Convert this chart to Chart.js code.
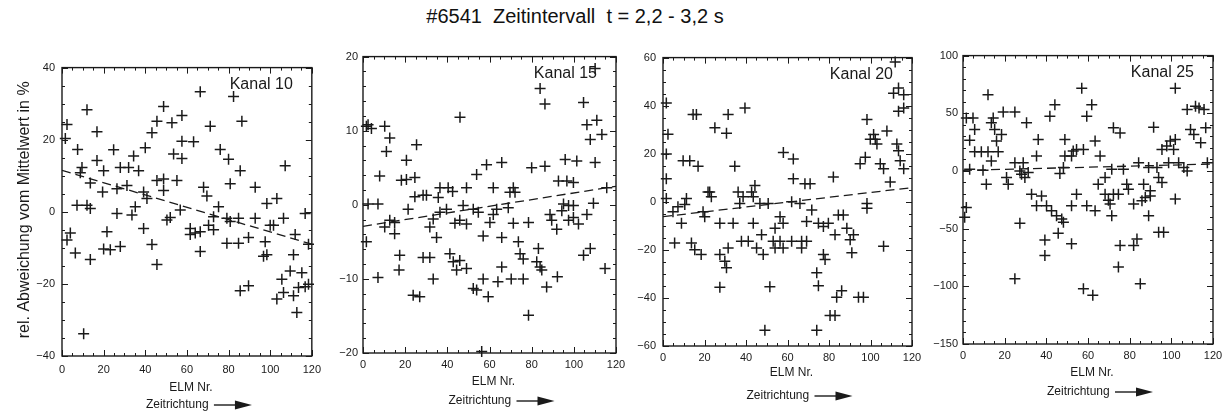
<!DOCTYPE html>
<html>
<head>
<meta charset="utf-8">
<script src="https://cdn.jsdelivr.net/npm/chart.js@4/dist/chart.umd.min.js"></script>
<style>
  html, body { margin: 0; padding: 0; background: #fff; }
  body { width: 1231px; height: 414px; position: relative; overflow: hidden; font-family: "Liberation Sans", Arial, sans-serif; }
  #titel { position: absolute; left: 325px; width: 500px; top: 5px; text-align: center; font-size: 20px; color: #111; white-space: pre; }
  canvas { position: absolute; }
</style>
</head>
<body>
<div id="titel">#6541  Zeitintervall  t = 2,2 - 3,2 s</div>
<canvas id="c10"></canvas>
<canvas id="c15"></canvas>
<canvas id="c20"></canvas>
<canvas id="c25"></canvas>
<script>
// Messpunkte: [ELM Nr., rel. Abweichung in %]
const kanal10 = [
  [2.4,24.2],[1.6,20.3],[12,28.3],[7.5,17.3],[16.8,22.2],[9.6,12.3],[16.8,14.2],[24.8,17.2],[8.8,10.8],[13.6,8.0],
  [20,11.4],[19.5,5.5],[28,12.3],[32,12.3],[34.4,15.5],[36.8,11.4],[31.2,7.3],[26.4,6.4],[40,17.8],[43.2,21.9],
  [45.6,25.1],[48.8,29.2],[52.8,24.7],[57.6,26.7],[57.6,19.6],[63.2,19.4],[53.6,16.0],[57.6,14.8],[66.4,33.3],[71.2,23.7],
  [76,17.3],[80,14.6],[82.4,32],[86.4,25.1],[85.6,11.4],[80.8,7.8],[45.6,8.7],[48.8,9.1],[55.2,8.7],[48.8,5.9],
  [40.8,3.7],[39.2,5.5],[35.2,1.4],[33.6,-0.9],[26.4,-0.5],[12,1.8],[7.2,1.8],[13.6,0.9],[4,-5.9],[2.4,-7.8],
  [6.4,-11.4],[13.6,-13.2],[21.6,-5.5],[20,-10.3],[23.2,-10.5],[28,-9.6],[39.2,-4.6],[43.2,-9.1],[45.6,-14.6],[10.4,-33.8],
  [50.4,-2.3],[52,-1.6],[56.8,0.5],[61.6,-6.3],[64,-5.9],[61.6,-4.6],[66.4,-11],[68,6.8],[69.6,4.4],[70.4,-3.7],
  [66.4,-5.5],[72.8,-5],[75.2,1.4],[72.8,-1.4],[79.2,-1.8],[84.8,-1.8],[79.2,-8.7],[84.8,-8.7],[80.8,-2.7],[89.6,-7.1],
  [92.8,-1.8],[92.8,6.8],[85.6,-21.9],[89.6,-20.5],[96.8,-12.3],[98.4,-11.9],[97.6,-8.3],[98.4,2.3],[103.2,3.7],[100,-3.7],
  [101.6,-3.7],[107.2,12.8],[106.4,-1.8],[112,-6.3],[111.2,-11.9],[109.6,-16.4],[115.2,-16.9],[105.6,-18.7],[103.2,-24.2],[106.4,-22.4],
  [111.2,-23.3],[112.8,-27.9],[113.6,-21.0],[116.8,-20.8],[118.4,-20.1],[116.8,-0.5],[118.4,-9]
];
const kanal15 = [
  [2.4,10.8],[4,10.3],[1.6,10.6],[10.3,10.6],[12.7,9.0],[11.1,7.2],[7.9,3.9],[25.4,8.1],[20.6,6.0],[18.2,3.3],
  [20.6,3.4],[24.6,3.7],[2.4,0.1],[7.1,0.1],[10.3,-3.0],[12.7,-2.1],[15,-2.4],[15,-3.9],[17.4,-6.8],[17.1,-8.8],
  [7.1,-9.8],[1.6,-5.0],[21.4,-0.6],[24.6,1.1],[28.5,1.3],[30.1,1.3],[35.7,1.0],[36.5,2.3],[40.4,2.3],[42.5,1.8],
  [49.1,2.3],[46,11.8],[53.9,4.1],[58.6,5.4],[65.8,5.7],[61.8,2.3],[36.5,-1.0],[39.6,-0.6],[33.3,-1.9],[31.7,-3.0],
  [34.9,-4.4],[31.7,-7.1],[28.5,-7.1],[33.3,-10],[23.8,-12.2],[26.9,-12.4],[41.2,-6.6],[42.8,-7.7],[44.4,-8.8],[45.9,-7.5],
  [49.1,-8.6],[43.6,-2.5],[45.9,-2.1],[49.1,-2.6],[47.5,-0.1],[52.3,-0.6],[54.7,-1.0],[52.3,-11.3],[53.9,-11.5],[57,-10],
  [59.4,-12.4],[56.3,-19.8],[57,-4.2],[60.2,-2.4],[61.8,-1.3],[63.4,-0.6],[64,-10.4],[65.8,-4.4],[65.8,-8.4],[68.9,-0.4],
  [69.7,1.7],[72.1,1.7],[71.3,2.3],[70.3,-10],[71.3,-2.5],[73.7,-5],[74.5,-6.6],[76,-7.3],[76,-10],[78.5,-2.4],
  [78.5,-14.9],[80,5.0],[83.2,-5.9],[82.4,-7.7],[84,-8.4],[84.8,-8.8],[86.3,5.2],[84,15.7],[86.3,13.6],[88.7,-1.3],
  [89.5,-2.1],[87.1,-11.1],[92.2,-9.7],[91.9,-3.3],[92.7,3.2],[95.1,0.1],[94.3,-0.8],[97.5,-2.1],[96.7,3.2],[99.8,3.0],
  [95.9,6.1],[101.4,5.9],[97.5,-0.1],[99.8,-1.7],[102.2,-2.6],[99.8,-0.1],[104.6,13.8],[106.2,10.8],[107.8,8.8],[110.9,11.4],
  [110.1,5.7],[110.1,18.4],[113.3,9.5],[109.3,0.2],[106.2,-1.3],[104.6,-6.8],[107.8,-5.9],[114.8,-8.6],[115.6,2.3]
];
const kanal20 = [
  [1.6,41.1],[2.4,28.1],[1.6,19.9],[1.6,9.6],[1.6,1.4],[4.8,-4.1],[7.2,-2.1],[8.9,-8.9],[10.5,-1.1],[11.3,1.4],
  [5.6,-17.1],[9.7,17.1],[12.9,17.1],[16.9,14.8],[14.5,36.3],[16.1,36.3],[13.7,-17.1],[15.3,-19.9],[18.4,-21.9],[19.3,-4.1],
  [20.1,-6.2],[21.7,4.1],[23.3,2.1],[22.5,4.1],[25,30.8],[30.6,28.5],[31.4,36.3],[39.5,39],[34.6,14.8],[27.4,-8.9],
  [33.8,-8.9],[27.4,-21.9],[29.8,-24.7],[31.4,-19.2],[30.6,-27.4],[27.4,-35.6],[36.2,4.1],[38.6,2.1],[37,-0.7],[42.7,4.1],
  [44.3,6.8],[43.5,2.1],[43.5,-8.9],[37.8,-16.4],[41.1,-16.4],[45.1,-19.2],[47.5,-13.7],[48.3,-21.9],[46.7,-0.7],[50.7,-0.7],
  [51.5,-35.3],[49.1,-53.4],[53.1,-16.4],[56.4,-16.4],[54,-11],[56.4,-6.2],[57.9,-8.9],[54,-19.2],[57.9,-19.2],[58,20.5],
  [62.8,17.8],[62.8,9.6],[62,0],[66,-0.7],[62,-16.4],[66.8,-16.4],[66.8,-19.2],[68.4,7.5],[70.9,7.5],[69.2,-8.2],
  [71.7,-3.4],[69.2,-16.4],[74.9,-8.9],[77.3,-10.3],[79.7,-8.9],[74.1,-29.5],[74.9,-34.9],[77.3,-21.9],[78.1,-24],[74.1,-53.4],
  [82.1,10.3],[80.5,-47.3],[82.9,-47.3],[82.9,-13.7],[84.5,-5.5],[86.9,-5.5],[83.7,-39.7],[86.1,-37],[88.6,-11],[90.2,-15.8],
  [91,-21.2],[91.8,-13.7],[94.2,-39.7],[96.6,-39.7],[95,15.8],[97.5,18.5],[98.3,34.2],[98.3,-0.7],[98.3,-2.7],[99.9,26],
  [102.3,26],[101.5,28],[103.1,24],[104.7,15.8],[106.3,13.7],[106.3,-18.5],[109.5,8.2],[107.9,29.5],[111.1,45.2],[113.5,47.3],
  [111.9,58.2],[113.5,37.7],[112.7,24],[113.5,21.2],[114.3,17.1],[116,13.7],[116,39],[116,44.5]
];
const kanal25 = [
  [1.6,46],[4.8,46],[3.2,26.7],[5.6,36],[3.2,1.4],[1.6,-31.6],[0.8,-40.2],[5.6,16.7],[8.8,16.7],[12,16.7],
  [12,66],[13.6,41.7],[14.5,46],[15.2,36],[16.9,16.7],[16.1,25.9],[18.5,31.6],[19.3,51.1],[24.9,51.1],[11.2,-11.5],
  [13.6,8.6],[9.6,0.6],[20.9,-5.7],[21.7,-11.5],[24.9,7.2],[28.9,7.2],[27.3,0],[28.1,-2.9],[30.5,41.7],[27.3,-45.4],
  [24.9,-93.4],[29.7,-5.7],[31.3,-1.4],[32.9,-20.1],[35.3,12.9],[36.1,27.3],[35.3,-30.2],[37.7,-21.6],[40.1,-30.2],[42.5,-34.5],
  [44.9,-38.8],[47.4,-41.7],[48.2,-44.5],[39.3,-59.8],[39.3,-73.3],[41.7,47.4],[44.1,57.5],[45.7,-54.0],[46.5,-2.3],[48.2,2.9],
  [48.9,27.3],[48.9,12.9],[52.1,12.9],[52.9,17.2],[54.5,18.7],[57.8,18.7],[52.1,-30.2],[54.5,-20.1],[52.1,-63.2],[57,71.8],
  [59.4,47.4],[61.8,57.5],[63.4,25.9],[65.8,12.9],[57.8,-102],[62.3,-107.8],[59.4,-30.2],[63.4,-34.5],[64.9,-11.5],[68.2,-5.7],
  [68.2,-20.1],[72.2,-20.1],[70.6,-28.7],[71.4,-38.8],[69.8,-25.3],[71.4,1.4],[72.2,37.4],[75.4,33],[74.6,-20.1],[74.6,-83.3],
  [75.4,-64.7],[77,1.4],[78.6,-11.5],[79.4,-15.8],[81.9,-28.7],[81.9,-64.7],[83.5,-58.9],[84.3,7.2],[85.1,-97.7],[85.9,-25.9],
  [87.5,-23],[86.7,-11.5],[89.1,2.9],[89.9,-17.2],[89.9,-21.6],[89.1,-38.8],[91.5,37.9],[93.1,2.9],[93.9,-5.7],[95.5,-10],
  [93.9,-53.2],[96.3,-53.2],[95.5,18.7],[97.8,21.6],[98.7,7.2],[99.5,25.9],[101.1,18.7],[101.9,27.3],[101.9,71.8],[101.9,-24.4],
  [103.5,7.2],[106,2.9],[107.6,53.2],[107.6,0],[109.2,36],[110.8,31.6],[111.6,56],[113.3,54.6],[114.1,24.4],[115.7,53.2],
  [116.5,37.4],[117.3,7.2]
];

// Ausgleichsgeraden (Werte bei ELM Nr. 0 und 120)
const trendX = [0, 120];
const trend10 = [11.5, -9];
const trend15 = [-2.9, 2.5];
const trend20 = [-6.2, 5.9];
const trend25 = [0.5, 6];

const xTicks = [0, 120, 20, 5];        // min, max, major, minor
const yTicks10 = [-40, 40, 20, 5];
const yTicks15 = [-20, 20, 10, 2];
const yTicks20 = [-60, 60, 20, 5];
const yTicks25 = [-150, 100, 50, 10];

const FONT = '"Liberation Sans", Arial, sans-serif';
const INK = '#1a1a1a';
const PAD_T = 10, PAD_R = 16, X_H = 60;

// Plotbereiche im Bild (links, oben, rechts, unten)
const panels = [
  { id: 'c10', kanal: 'Kanal 10', punkte: kanal10, trend: trend10, yT: yTicks10, box: [62, 64, 312, 356], yW: 62, tpX: 7, tpY: 7, elm: 32, zeit: 49, yTitel: true },
  { id: 'c15', kanal: 'Kanal 15', punkte: kanal15, trend: trend15, yT: yTicks15, box: [363, 55, 616, 353], yW: 40, tpX: 5, tpY: 5, elm: 29, zeit: 48 },
  { id: 'c20', kanal: 'Kanal 20', punkte: kanal20, trend: trend20, yT: yTicks20, box: [663, 54, 912, 346], yW: 40, tpX: 5, tpY: 7, elm: 27, zeit: 50 },
  { id: 'c25', kanal: 'Kanal 25', punkte: kanal25, trend: trend25, yT: yTicks25, box: [963, 54, 1213, 344], yW: 40, tpX: 5, tpY: 5, elm: 29, zeit: 48 },
];

function istMajor(v, major) {
  return Math.abs(Math.round(v / major) * major - v) < 1e-6;
}

// Rahmen mit Innenstrichen, Kanalbeschriftung, Achsentexte
const rahmenPlugin = {
  id: 'rahmen',
  afterDraw(chart, args, o) {
    const { ctx, chartArea: a, scales: { x, y } } = chart;
    ctx.save();
    ctx.strokeStyle = INK;
    ctx.lineWidth = 1.4;
    ctx.strokeRect(a.left, a.top, a.right - a.left, a.bottom - a.top);
    ctx.lineWidth = 1;
    ctx.beginPath();
    for (let v = xTicks[0]; v <= xTicks[1] + 1e-9; v += xTicks[3]) {
      const px = Math.round(x.getPixelForValue(v)) + 0.5;
      const len = istMajor(v, xTicks[2]) ? 6 : 3;
      ctx.moveTo(px, a.bottom); ctx.lineTo(px, a.bottom - len);
      ctx.moveTo(px, a.top); ctx.lineTo(px, a.top + len);
    }
    for (let v = o.yT[0]; v <= o.yT[1] + 1e-9; v += o.yT[3]) {
      const py = Math.round(y.getPixelForValue(v)) + 0.5;
      const len = istMajor(v, o.yT[2]) ? 6 : 3;
      ctx.moveTo(a.left, py); ctx.lineTo(a.left + len, py);
      ctx.moveTo(a.right, py); ctx.lineTo(a.right - len, py);
    }
    ctx.stroke();

    ctx.fillStyle = INK;
    ctx.font = '16px ' + FONT;
    ctx.textAlign = 'right';
    ctx.textBaseline = 'middle';
    ctx.fillText(o.kanal, a.right - 19, a.top + 17);

    const mitte = (a.left + a.right) / 2;
    ctx.font = '12px ' + FONT;
    ctx.textAlign = 'center';
    ctx.fillText('ELM Nr.', mitte + 4, a.bottom + o.elm);
    ctx.textAlign = 'left';
    ctx.fillText('Zeitrichtung', mitte - 41, a.bottom + o.zeit);
    const ay = a.bottom + o.zeit;
    ctx.lineWidth = 1.4;
    ctx.beginPath();
    ctx.moveTo(mitte + 27, ay); ctx.lineTo(mitte + 52, ay);
    ctx.stroke();
    ctx.beginPath();
    ctx.moveTo(mitte + 65, ay); ctx.lineTo(mitte + 48, ay - 4.5); ctx.lineTo(mitte + 48, ay + 4.5);
    ctx.closePath();
    ctx.fill();

    if (o.yTitel) {
      ctx.save();
      ctx.translate(25, (a.top + a.bottom) / 2 - 2);
      ctx.rotate(-Math.PI / 2);
      ctx.textAlign = 'center';
      ctx.font = '16px ' + FONT;
      ctx.fillText('rel. Abweichung vom Mittelwert in %', 0, 0);
      ctx.restore();
    }
    ctx.restore();
  }
};

panels.forEach(p => {
  const [l, t, r, b] = p.box;
  const canvas = document.getElementById(p.id);
  canvas.width = p.yW + (r - l) + PAD_R;
  canvas.height = PAD_T + (b - t) + X_H;
  canvas.style.left = (l - p.yW) + 'px';
  canvas.style.top = (t - PAD_T) + 'px';

  new Chart(canvas.getContext('2d'), {
    type: 'scatter',
    data: {
      datasets: [
        {
          data: p.punkte.map(([x, y]) => ({ x, y })),
          pointStyle: 'cross',
          pointRadius: 5.5,
          borderColor: INK,
          borderWidth: 1.5,
          clip: 6,
        },
        {
          type: 'line',
          data: trendX.map((x, i) => ({ x, y: p.trend[i] })),
          borderColor: INK,
          borderWidth: 1.3,
          borderDash: [9, 5],
          pointRadius: 0,
          fill: false,
        },
      ],
    },
    options: {
      responsive: false,
      animation: false,
      events: [],
      layout: { padding: { top: PAD_T, right: PAD_R, left: 0, bottom: 0 } },
      plugins: {
        legend: { display: false },
        tooltip: { enabled: false },
        rahmen: { kanal: p.kanal, yT: p.yT, elm: p.elm, zeit: p.zeit, yTitel: !!p.yTitel },
      },
      scales: {
        x: {
          type: 'linear',
          min: xTicks[0], max: xTicks[1],
          grid: { display: false, drawTicks: false },
          border: { display: false },
          ticks: { stepSize: xTicks[2], padding: p.tpX, color: INK, font: { family: FONT, size: 11 }, maxRotation: 0 },
          afterFit: s => { s.height = X_H; },
        },
        y: {
          min: p.yT[0], max: p.yT[1],
          grid: { display: false, drawTicks: false },
          border: { display: false },
          ticks: {
            stepSize: p.yT[2], padding: p.tpY, color: INK, font: { family: FONT, size: 11 },
            callback: v => String(v).replace('-', '\u2212'),
          },
          afterFit: s => { s.width = p.yW; },
        },
      },
    },
    plugins: [rahmenPlugin],
  });
});
</script>
</body>
</html>
